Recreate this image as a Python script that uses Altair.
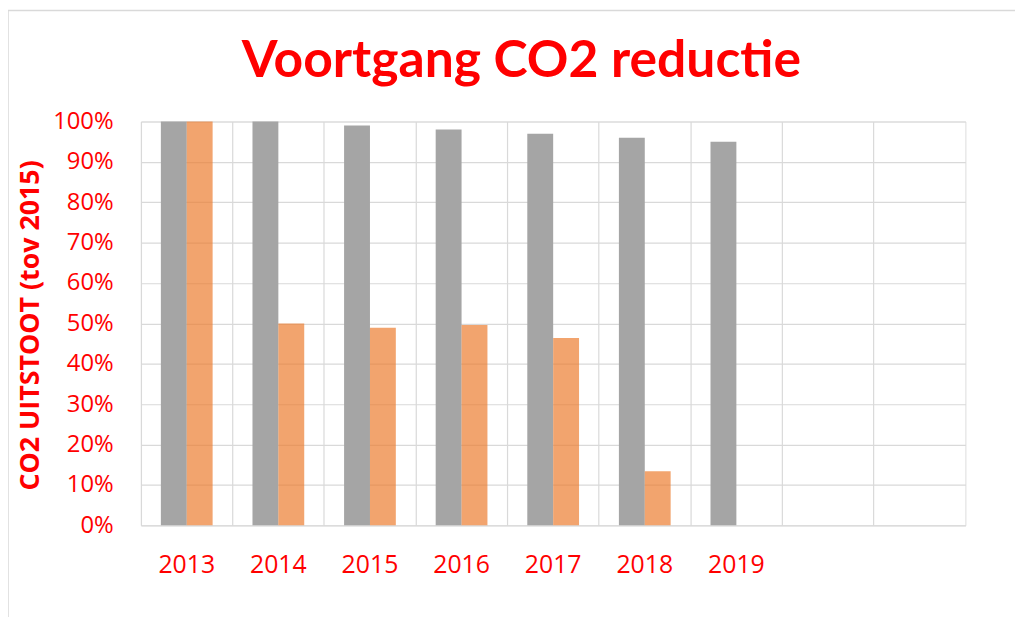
import altair as alt
import pandas as pd

# ---- data ----
years = ["2013", "2014", "2015", "2016", "2017", "2018", "2019"]
extra_slots = ["2020", "2021"]  # empty categories shown on the axis
doel = [100, 100, 99, 98, 97, 96, 95]          # grey series
realisatie = [100, 50, 48.9, 49.6, 46.4, 13.4]  # orange series (no 2019 value)
series_names = ["Doelstelling", "Realisatie"]

rows = []
for y, v in zip(years, doel):
    rows.append({"jaar": y, "serie": series_names[0], "waarde": v / 100})
for y, v in zip(years, realisatie):
    rows.append({"jaar": y, "serie": series_names[1], "waarde": v / 100})
df = pd.DataFrame(rows)

domain = years + extra_slots
RED = "#ff0000"
GRID = "#d9d9d9"
FONT = "Open Sans"

x_scale = alt.Scale(domain=domain, paddingInner=0, paddingOuter=0)

bars = alt.Chart(df).mark_bar().encode(
    x=alt.X(
        "jaar:N",
        scale=x_scale,
        sort=domain,
        axis=alt.Axis(
            title=None,
            grid=False,
            ticks=False,
            domain=False,
            labelAngle=0,
            labelColor=RED,
            labelFont=FONT,
            labelFontSize=25,
            labelPadding=28,
            labelExpr="indexof(['2020','2021'], datum.value) >= 0 ? '' : datum.value",
        ),
    ),
    xOffset=alt.XOffset(
        "serie:N",
        scale=alt.Scale(domain=series_names, paddingInner=0, paddingOuter=0.77),
    ),
    y=alt.Y(
        "waarde:Q",
        scale=alt.Scale(domain=[0, 1], nice=False),
        axis=alt.Axis(
            format=".0%",
            values=[i / 10 for i in range(11)],
            title="CO2 UITSTOOT (tov 2015)",
            titleColor=RED,
            titleFont=FONT,
            titleFontSize=27,
            titleFontWeight="bold",
            titleX=-111,
            titleY=205,
            titleAngle=270,
            titleBaseline="middle",
            titleAlign="center",
            labelColor=RED,
            labelFont=FONT,
            labelFontSize=24,
            labelPadding=28,
            ticks=False,
            domain=False,
            grid=True,
            gridColor=GRID,
            gridWidth=1.2,
        ),
    ),
    color=alt.Color(
        "serie:N",
        scale=alt.Scale(domain=series_names, range=["#a5a5a5", "#ed7d31"]),
        legend=None,
    ),
    opacity=alt.Opacity(
        "serie:N",
        scale=alt.Scale(domain=series_names, range=[1.0, 0.7]),
        legend=None,
    ),
)

# vertical gridlines at category boundaries (grid-only axis)
vgrid = alt.Chart(pd.DataFrame({"jaar": domain})).mark_tick(opacity=0).encode(
    x=alt.X(
        "jaar:N",
        scale=x_scale,
        sort=domain,
        axis=alt.Axis(
            title=None,
            orient="top",
            labels=False,
            ticks=False,
            domain=False,
            grid=True,
            gridColor=GRID,
            gridWidth=1.2,
            bandPosition=0,
        ),
    ),
)

# frame of the chart area
frame = alt.Chart(pd.DataFrame({"a": [0]})).mark_rect(
    fill=None, stroke=GRID, strokeWidth=1.5
).encode(
    x=alt.value(-134), x2=alt.value(1200), y=alt.value(-112), y2=alt.value(800)
)

chart = (
    alt.layer(vgrid, bars, frame)
    .resolve_scale(x="shared")
    .resolve_axis(x="independent")
    .properties(
        width=831,
        height=407,
        title=alt.TitleParams(
            "Voortgang CO2 reductie",
            color=RED,
            font="Lato",
            fontSize=52,
            fontWeight="bold",
            anchor="middle",
            frame="group",
            dx=-32,
            dy=111,
            offset=32,
        ),
        autosize=alt.AutoSizeParams(type="none"),
        padding={"left": 134, "top": 112, "right": 50, "bottom": 90},
    )
    .configure_view(stroke=GRID, strokeWidth=1.2)
    .configure(background="white")
)

chart.save("out.html", embed_options={"renderer": "svg", "actions": False})
